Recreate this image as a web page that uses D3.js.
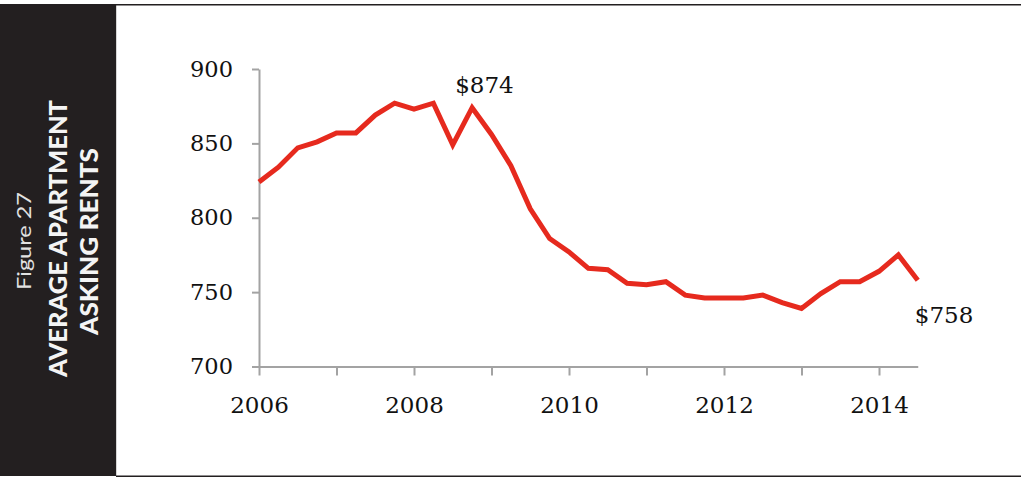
<!DOCTYPE html>
<html>
<head>
<meta charset="utf-8">
<script src="https://cdn.jsdelivr.net/npm/d3@7"></script>
<style>
  html, body { margin: 0; padding: 0; background: #ffffff; }
  svg { display: block; }
</style>
</head>
<body>
<svg id="chart" width="1021" height="480"></svg>
<script>
// Quarterly periods (year + quarter fraction)
const periods = [
  2006.00, 2006.25, 2006.50, 2006.75,
  2007.00, 2007.25, 2007.50, 2007.75,
  2008.00, 2008.25, 2008.50, 2008.75,
  2009.00, 2009.25, 2009.50, 2009.75,
  2010.00, 2010.25, 2010.50, 2010.75,
  2011.00, 2011.25, 2011.50, 2011.75,
  2012.00, 2012.25, 2012.50, 2012.75,
  2013.00, 2013.25, 2013.50, 2013.75,
  2014.00, 2014.25, 2014.50
];

// Average apartment asking rent, dollars
const rents = [
  824, 834, 847, 851,
  857, 857, 869, 877,
  873, 877, 849, 874,
  856, 835, 806, 786,
  777, 766, 765, 756,
  755, 757, 748, 746,
  746, 746, 748, 743,
  739, 749, 757, 757,
  764, 775, 758
];

const yTicks = [700, 750, 800, 850, 900];
const xTickYears = [2006, 2007, 2008, 2009, 2010, 2011, 2012, 2013, 2014];
const xLabelYears = [2006, 2008, 2010, 2012, 2014];

// Callouts: index into the series
const callouts = [
  { index: 11, dx: -17, dy: -15 },
  { index: 34, dx: -3, dy: 43 }
];

const titleSmall = "Figure 27";
const titleLines = ["AVERAGE APARTMENT", "ASKING RENTS"];

const svg = d3.select("#chart");
const W = 1021, H = 480;

// Frame: dark side panel and rules
svg.append("rect")
  .attr("x", 0).attr("y", 4)
  .attr("width", 116).attr("height", 472)
  .attr("fill", "#231f20");
svg.append("line")
  .attr("x1", 116.5).attr("x2", 116.5).attr("y1", 4).attr("y2", 476)
  .attr("stroke", "#d6d6d6").attr("stroke-width", 1);
svg.append("line")
  .attr("x1", 0).attr("x2", W).attr("y1", 4.75).attr("y2", 4.75)
  .attr("stroke", "#231f20").attr("stroke-width", 1.5);
svg.append("line")
  .attr("x1", 116).attr("x2", W).attr("y1", 476.25).attr("y2", 476.25)
  .attr("stroke", "#231f20").attr("stroke-width", 1.5);

// Vertical panel titles
const panel = svg.append("g");
panel.append("text")
  .attr("transform", "translate(30.5,241) rotate(-90)")
  .attr("text-anchor", "middle")
  .attr("font-family", "Lato, 'Open Sans', sans-serif")
  .attr("font-weight", 400)
  .attr("font-size", 19.5)
  .attr("fill", "#e2e2e2")
  .attr("textLength", 98)
  .attr("lengthAdjust", "spacingAndGlyphs")
  .text(titleSmall);
const titleGeom = [
  { x: 66.5, y: 238.5, len: 277 },
  { x: 98, y: 241.5, len: 187 }
];
titleLines.forEach((t, i) => {
  panel.append("text")
    .attr("transform", `translate(${titleGeom[i].x},${titleGeom[i].y}) rotate(-90)`)
    .attr("text-anchor", "middle")
    .attr("font-family", "Lato, 'Open Sans', sans-serif")
    .attr("font-weight", 900)
    .attr("font-size", 25.5)
    .attr("fill", "#f4f4f4")
    .attr("textLength", titleGeom[i].len)
    .attr("lengthAdjust", "spacingAndGlyphs")
    .text(t);
});

// Scales
const x = d3.scaleLinear().domain([2006, 2014.5]).range([259, 917.75]);
const y = d3.scaleLinear().domain([700, 900]).range([366.5, 69]);

const axisColor = "#a3a3a3";
const fontFamily = "'DejaVu Serif', serif";
const textColor = "#111111";

// Y axis
const yAxis = svg.append("g")
  .attr("transform", `translate(${x(2006)},0)`)
  .call(d3.axisLeft(y).tickValues(yTicks).tickSize(7).tickPadding(19).tickSizeOuter(0));
yAxis.select(".domain").attr("stroke", axisColor).attr("stroke-width", 2);
yAxis.selectAll(".tick line").attr("stroke", axisColor).attr("stroke-width", 2);
yAxis.selectAll(".tick text")
  .attr("font-family", fontFamily).attr("font-size", 22.5).attr("fill", textColor);

// X axis
const xAxis = svg.append("g")
  .attr("transform", `translate(0,${y(700)})`)
  .call(d3.axisBottom(x)
    .tickValues(xTickYears)
    .tickSize(9)
    .tickPadding(21)
    .tickSizeOuter(0)
    .tickFormat(d => xLabelYears.includes(d) ? String(d) : ""));
xAxis.select(".domain").attr("stroke", axisColor).attr("stroke-width", 2);
xAxis.selectAll(".tick line").attr("stroke", axisColor).attr("stroke-width", 2);
xAxis.selectAll(".tick text")
  .attr("font-family", fontFamily).attr("font-size", 23).attr("fill", textColor);

// Rent line
const line = d3.line()
  .x((d, i) => x(periods[i]))
  .y(d => y(d));
svg.append("path")
  .datum(rents)
  .attr("d", line)
  .attr("fill", "none")
  .attr("stroke", "#e62a1e")
  .attr("stroke-width", 5)
  .attr("stroke-linejoin", "miter")
  .attr("stroke-linecap", "butt");

// Value callouts
callouts.forEach(c => {
  svg.append("text")
    .attr("x", x(periods[c.index]) + c.dx)
    .attr("y", y(rents[c.index]) + c.dy)
    .attr("font-family", fontFamily)
    .attr("font-size", 23)
    .attr("fill", textColor)
    .text("$" + rents[c.index]);
});
</script>
</body>
</html>
